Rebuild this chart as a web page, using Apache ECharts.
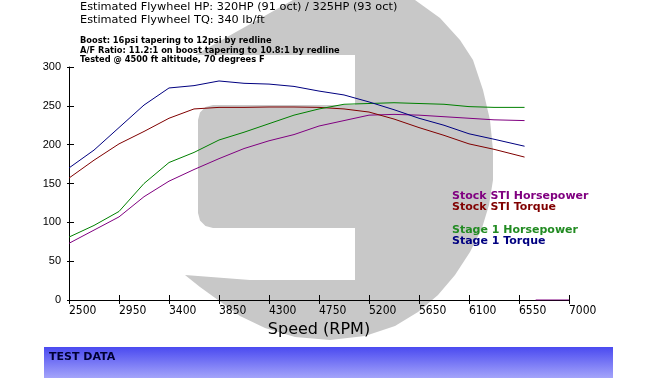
<!DOCTYPE html>
<html>
<head>
<meta charset="utf-8">
<script src="https://cdn.jsdelivr.net/npm/echarts@6/dist/echarts.min.js"></script>
<style>html,body{margin:0;padding:0;background:#fff}#c{width:672px;height:378px}</style>
</head>
<body>
<div id="c"></div>
<script>
// ---- data ----
const rpm       = [2500, 2725, 2950, 3175, 3400, 3625, 3850, 4075, 4300, 4525, 4750, 4975, 5200, 5425, 5650, 5875, 6100, 6325, 6600];
const stockHP   = [73, 90, 107, 133, 153, 168, 182, 195, 205, 213, 224, 231, 238, 239, 238, 236, 234, 232, 231];
const stockTQ   = [157, 180, 201, 217, 234, 246, 248, 248, 248.5, 248.5, 248, 246, 242, 233, 222, 212, 201, 194, 184];
const stage1HP  = [81, 96, 114, 150, 177, 190, 206, 216, 227, 238, 246, 252, 253, 254, 253, 252, 249, 248, 248];
const stage1TQ  = [170, 193, 222, 251, 273, 276, 282, 279, 278, 275, 269, 264, 255, 245, 234, 225, 214, 207, 198];
const tailRpm   = [6700, 7000];
const tailVal   = [0, 0];
const xTickLabels = ['2500','2950','3400','3850','4300','4750','5200','5650','6100','6550','7000'];
const seriesNames = ['Stock STI Horsepower','Stock STI Torque','Stage 1 Horsepower','Stage 1 Torque'];
const headerLines = ['Estimated Flywheel HP: 320HP (91 oct) / 325HP (93 oct)','Estimated Flywheel TQ: 340 lb/ft'];
const noteLines = ['Boost: 16psi tapering to 12psi by redline','A/F Ratio: 11.2:1 on boost tapering to 10.8:1 by redline','Tested @ 4500 ft altitude, 70 degrees F'];

const colors = ['#800080','#800000','#008000','#000080'];
const pair = (xs, ys) => xs.map((x, i) => [x, ys[i]]);

// logo outline (decoration)
const logo = [
  [293,0],[415,0],[440,18],[460,40],[473,60],[483,90],[490,120],[493,150],[493,180],[489,205],[482,228],
  [470,252],[455,275],[438,295],[418,312],[395,326],[365,336],[330,340],[295,337],[265,328],[240,316],
  [218,300],[200,287],[185,275],[250,280],[355,280],[355,228],[213,228],[205.5,226],[200,220.5],[198,213],
  [198,120],[200,112.5],[205.5,107],[213,105],[355,105],[355,55],[195,55]
];

const chart = echarts.init(document.getElementById('c'), null, {renderer:'canvas'});
const axisCol = '#000';
chart.setOption({
  backgroundColor: '#fff',
  animation: false,
  title: {
    left: 80, top: 1, padding: 0, itemGap: 9,
    text: headerLines.join('\n'),
    textStyle: {fontFamily: 'DejaVu Sans', fontSize: 11.3, fontWeight: 'normal', color: '#000', lineHeight: 13},
    subtext: noteLines.join('\n'),
    subtextStyle: {fontFamily: 'DejaVu Sans', fontSize: 8.3, fontWeight: 'bold', color: '#000', lineHeight: 9.6}
  },
  graphic: [
    {type: 'polygon', z: -10, shape: {points: logo}, style: {fill: '#c8c8c8'}, silent: true},
    {type: 'rect', z: -5, shape: {x: 44, y: 347, width: 569, height: 31},
     style: {fill: new echarts.graphic.LinearGradient(0,0,0,1,[{offset:0,color:'#4a4af0'},{offset:1,color:'#a4a4fa'}])}, silent: true},
    {type: 'text', z: 10, left: 49, top: 352,
     style: {text: 'TEST DATA', fill: '#000033', font: 'bold 11px "DejaVu Sans"'}}
  ],
  legend: [
    {data: [{name: seriesNames[0], textStyle:{color: colors[0]}}, {name: seriesNames[1], textStyle:{color: colors[1]}}],
     orient: 'vertical', left: 446, top: 191, itemWidth: 0, itemHeight: 0, itemGap: 0, padding: 0, selectedMode: false,
     textStyle: {fontFamily: 'DejaVu Sans', fontWeight: 'bold', fontSize: 11, lineHeight: 11}},
    {data: [{name: seriesNames[2], textStyle:{color: '#228b22'}}, {name: seriesNames[3], textStyle:{color: colors[3]}}],
     orient: 'vertical', left: 446, top: 225, itemWidth: 0, itemHeight: 0, itemGap: 0, padding: 0, selectedMode: false,
     textStyle: {fontFamily: 'DejaVu Sans', fontWeight: 'bold', fontSize: 11, lineHeight: 11}}
  ],
  grid: {left: 69, right: 103, top: 67, bottom: 78, containLabel: false},
  xAxis: [
    {type: 'value', min: 2500, max: 7000, show: false},
    {type: 'category', data: xTickLabels, boundaryGap: false, position: 'bottom',
     name: 'Speed (RPM)', nameLocation: 'middle', nameGap: 21,
     nameTextStyle: {fontFamily: 'DejaVu Sans', fontSize: 16, color: '#000'},
     axisLine: {lineStyle: {color: axisCol, width: 1}},
     axisTick: {inside: true, length: 5, lineStyle: {color: axisCol}},
     axisLabel: {align: 'left', margin: 5, color: '#000', fontFamily: "'Liberation Sans Narrow','DejaVu Sans Condensed','Liberation Sans'", fontSize: 12}},
    {type: 'category', data: xTickLabels, boundaryGap: false, position: 'bottom',
     axisLine: {show: false}, axisTick: {inside: false, length: 4, lineStyle: {color: axisCol}}, axisLabel: {show: false}}
  ],
  yAxis: [
    {type: 'value', min: 0, max: 300, interval: 50, position: 'left',
     axisLine: {show: true, lineStyle: {color: axisCol, width: 1}},
     axisTick: {show: true, inside: true, length: 5, lineStyle: {color: axisCol}},
     splitLine: {show: false},
     axisLabel: {margin: 8, color: '#000', fontFamily: 'Liberation Sans', fontSize: 11}},
    {type: 'value', min: 0, max: 300, interval: 50, position: 'left',
     axisLine: {show: false}, splitLine: {show: false}, axisLabel: {show: false},
     axisTick: {show: true, inside: false, length: 2, lineStyle: {color: axisCol}}}
  ],
  series: [
    {name: seriesNames[0], type: 'line', xAxisIndex: 0, data: pair(rpm, stockHP), symbol: 'none', lineStyle: {width: 1, color: colors[0]}, itemStyle:{color: colors[0]}},
    {name: seriesNames[1], type: 'line', xAxisIndex: 0, data: pair(rpm, stockTQ), symbol: 'none', lineStyle: {width: 1, color: colors[1]}, itemStyle:{color: colors[1]}},
    {name: seriesNames[2], type: 'line', xAxisIndex: 0, data: pair(rpm, stage1HP), symbol: 'none', lineStyle: {width: 1, color: colors[2]}, itemStyle:{color: colors[2]}},
    {name: seriesNames[3], type: 'line', xAxisIndex: 0, data: pair(rpm, stage1TQ), symbol: 'none', lineStyle: {width: 1, color: colors[3]}, itemStyle:{color: colors[3]}},
    {name: 'tail', type: 'line', xAxisIndex: 0, data: pair(tailRpm, tailVal), symbol: 'none', lineStyle: {width: 1, color: colors[0]}, z: 5}
  ]
});
</script>
</body>
</html>
